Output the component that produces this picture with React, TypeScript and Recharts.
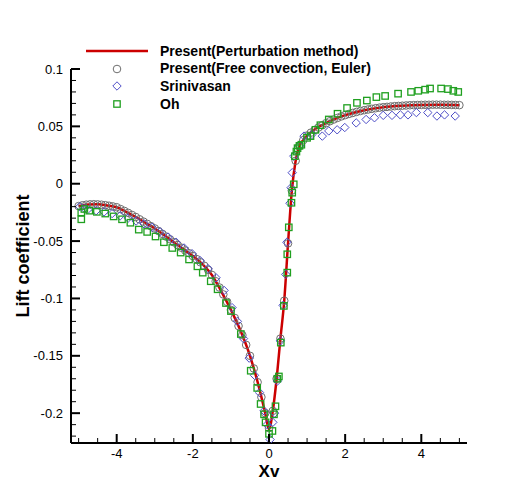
import React from "react";
import {
  ComposedChart,
  Line,
  Scatter,
  XAxis,
  YAxis,
  Legend,
  Label,
} from "recharts";

// Present (perturbation method) - smooth red curve
const perturbX = [
  -5, -4.75, -4.5, -4.25, -4, -3.75, -3.5, -3.25, -3, -2.75, -2.5, -2.25, -2,
  -1.75, -1.5, -1.25, -1, -0.75, -0.5, -0.25, -0.1, 0, 0.1, 0.2, 0.3, 0.4, 0.5,
  0.6, 0.7, 0.8, 0.9, 1, 1.25, 1.5, 1.75, 2, 2.5, 3, 3.5, 4, 4.5, 5,
];
const perturbY = [
  -0.0195, -0.0181, -0.018, -0.0189, -0.0205, -0.0245, -0.029, -0.034, -0.039,
  -0.0449, -0.051, -0.057, -0.063, -0.07, -0.0795, -0.094, -0.11, -0.128, -0.15,
  -0.179, -0.2, -0.214, -0.198, -0.17, -0.135, -0.102, -0.052, -0.006, 0.02,
  0.033, 0.038, 0.042, 0.0485, 0.0528, 0.0567, 0.0598, 0.0641, 0.0667, 0.068,
  0.0687, 0.0689, 0.0685,
];

// Present (free convection, Euler) - circles
const eulerX = [
  -5, -4.9, -4.8, -4.7, -4.6, -4.5, -4.4, -4.3, -4.2, -4.1, -4, -3.9, -3.8, -3.7,
  -3.6, -3.5, -3.4, -3.3, -3.2, -3.1, -3, -2.9, -2.8, -2.7, -2.6, -2.5, -2.4,
  -2.3, -2.2, -2.1, -2, -1.9, -1.8, -1.7, -1.6, -1.5, -1.4, -1.3, -1.2, -1.1, -1,
  -0.9, -0.8, -0.7, -0.6, -0.5, -0.4, -0.3, -0.2, -0.1, 0, 0.1, 0.2, 0.3, 0.4,
  0.5, 0.6, 0.7, 0.8, 0.9, 1, 1.1, 1.2, 1.3, 1.4, 1.5, 1.6, 1.7, 1.8, 1.9, 2,
  2.1, 2.2, 2.3, 2.4, 2.5, 2.6, 2.7, 2.8, 2.9, 3, 3.1, 3.2, 3.3, 3.4, 3.5, 3.6,
  3.7, 3.8, 3.9, 4, 4.1, 4.2, 4.3, 4.4, 4.5, 4.6, 4.7, 4.8, 4.9, 5,
];
const eulerY = [
  -0.0195, -0.0188, -0.0183, -0.018, -0.0179, -0.018, -0.0183, -0.0187, -0.0192,
  -0.0198, -0.0205, -0.0221, -0.0237, -0.0254, -0.0272, -0.029, -0.031, -0.033,
  -0.035, -0.037, -0.039, -0.0413, -0.0437, -0.0461, -0.0485, -0.051, -0.0534,
  -0.0558, -0.0582, -0.0606, -0.063, -0.0657, -0.0685, -0.0715, -0.075, -0.0795,
  -0.085, -0.0905, -0.0965, -0.103, -0.11, -0.117, -0.124, -0.132, -0.1405,
  -0.15, -0.161, -0.173, -0.186, -0.2, -0.213, -0.198, -0.17, -0.135, -0.102,
  -0.052, -0.006, 0.02, 0.033, 0.038, 0.042, 0.0445, 0.0468, 0.049, 0.051,
  0.0528, 0.0545, 0.056, 0.0574, 0.0587, 0.0598, 0.0608, 0.0617, 0.0626, 0.0634,
  0.0641, 0.0647, 0.0653, 0.0658, 0.0663, 0.0667, 0.067, 0.0673, 0.0676, 0.0678,
  0.068, 0.0682, 0.0684, 0.0685, 0.0686, 0.0687, 0.0688, 0.0688, 0.0689, 0.0689,
  0.0689, 0.0688, 0.0688, 0.0687, 0.0686, 0.0685,
];

// Srinivasan - diamonds
const srinivasanX = [
  -4.97, -4.85, -4.76, -4.54, -4.33, -4.12, -3.91, -3.7, -3.49, -3.28, -3.07,
  -2.86, -2.65, -2.44, -2.23, -2.02, -1.81, -1.6, -1.39, -1.18, -0.97, -0.83,
  -0.67, -0.52, -0.38, -0.25, -0.13, -0.05, 0.03, 0.1, 0.15, 0.22, 0.3, 0.37,
  0.44, 0.47, 0.55, 0.58, 0.61, 0.65, 0.8, 0.92, 1.13, 1.4, 1.57, 1.79, 1.99,
  2.29, 2.55, 2.77, 3.0, 3.23, 3.45, 3.65, 3.87, 4.17, 4.41, 4.61, 4.89,
];
const srinivasanY = [
  -0.02, -0.0215, -0.0225, -0.0235, -0.0245, -0.026, -0.028, -0.03, -0.0325,
  -0.035, -0.038, -0.042, -0.0465, -0.051, -0.056, -0.061, -0.067, -0.074,
  -0.082, -0.093, -0.108, -0.12, -0.135, -0.152, -0.167, -0.182, -0.198, -0.21,
  -0.223, -0.208, -0.2, -0.172, -0.137, -0.106, -0.079, -0.051, -0.017,
  -0.0035, 0.0096, 0.024, 0.033, 0.0415, 0.043, 0.0415, 0.046, 0.047, 0.049,
  0.053, 0.056, 0.0575, 0.0596, 0.0596, 0.06, 0.06, 0.062, 0.062, 0.059, 0.06,
  0.059,
];

// Oh - squares
const ohX = [
  -4.93, -4.93, -4.85, -4.72, -4.52, -4.3, -4.08, -3.86, -3.64, -3.42, -3.2,
  -2.98, -2.76, -2.54, -2.32, -2.1, -1.88, -1.74, -1.53, -1.35, -1.13, -1.0,
  -0.74, -0.48, -0.31, -0.22, -0.13, -0.09, 0, 0.09, 0.13, 0.17, 0.22, 0.26,
  0.31, 0.39, 0.48, 0.48, 0.52, 0.59, 0.61, 0.65, 0.68, 0.72, 0.75, 0.8, 0.85,
  1.0, 1.09, 1.22, 1.35, 1.57, 1.8, 2.05, 2.31, 2.57, 2.82, 3.05, 3.39, 3.73,
  3.92, 4.1, 4.23, 4.52, 4.7, 4.84, 4.97,
];
const ohY = [
  -0.031, -0.025, -0.022, -0.0235, -0.0245, -0.026, -0.0285, -0.031, -0.034,
  -0.04, -0.042, -0.046, -0.051, -0.056, -0.06, -0.066, -0.072, -0.0775,
  -0.085, -0.092, -0.104, -0.111, -0.131, -0.163, -0.178, -0.192, -0.201,
  -0.208, -0.218, -0.2155, -0.201, -0.194, -0.17, -0.168, -0.1385, -0.1065,
  -0.0775, -0.0615, -0.038, -0.0166, -0.0078, -0.0005, 0.024, 0.028, 0.031,
  0.033, 0.034, 0.04, 0.0415, 0.047, 0.051, 0.056, 0.061, 0.066, 0.0705,
  0.0725, 0.0755, 0.0765, 0.0785, 0.08, 0.081, 0.082, 0.083, 0.083, 0.0825,
  0.081, 0.08,
];

const xMajorTicks = [-4, -2, 0, 2, 4];
const yMajorTicks = [-0.2, -0.15, -0.1, -0.05, 0, 0.05, 0.1];

const seriesNames = [
  "Present(Perturbation method)",
  "Present(Free convection, Euler)",
  "Srinivasan",
  "Oh",
];

const zip = (xs: number[], ys: number[]) => xs.map((x, i) => ({ x, y: ys[i] }));

const perturbData = zip(perturbX, perturbY);
const eulerData = zip(eulerX, eulerY);
const srinivasanData = zip(srinivasanX, srinivasanY);
const ohData = zip(ohX, ohY);

// minor ticks every 0.5 on x, every 0.01 on y
const xTicks: number[] = [];
for (let k = -10; k <= 10; k++) xTicks.push(k / 2);
const yTicks: number[] = [];
for (let k = -22; k <= 10; k++) yTicks.push(k / 100);

const FONT = "'Liberation Sans', Arial, Helvetica, sans-serif";
const RED = "#cc0000";
const GRAY = "#6e6e6e";
const BLUE = "#4f4fc8";
const GREEN = "#20a020";

const XTick = (props: any) => {
  const { x, y, payload } = props;
  const v = payload.value;
  const major = xMajorTicks.includes(v);
  return (
    <g>
      <line
        x1={x}
        x2={x}
        y1={y}
        y2={y - (major ? 9 : 5)}
        stroke="#000"
        strokeWidth={major ? 2 : 1}
      />
      {major && (
        <text x={x} y={y + 14.5} textAnchor="middle" fontSize={13} fontFamily={FONT} fill="#000">
          {v}
        </text>
      )}
    </g>
  );
};

const YTick = (props: any) => {
  const { x, y, payload } = props;
  const v = payload.value;
  const major = yMajorTicks.includes(v);
  return (
    <g>
      <line
        x1={x}
        x2={x + (major ? 9 : 5)}
        y1={y}
        y2={y}
        stroke="#000"
        strokeWidth={major ? 2 : 1}
      />
      {major && (
        <text x={x - 8} y={y + 4.5} textAnchor="end" fontSize={13} fontFamily={FONT} fill="#000">
          {v}
        </text>
      )}
    </g>
  );
};

const circleShape = (p: any) => (
  <circle cx={p.cx} cy={p.cy} r={3.8} fill="none" stroke={GRAY} strokeWidth={1} />
);
const diamondShape = (p: any) => (
  <path
    d={`M${p.cx},${p.cy - 4.2}L${p.cx + 4.2},${p.cy}L${p.cx},${p.cy + 4.2}L${p.cx - 4.2},${p.cy}Z`}
    fill="none"
    stroke={BLUE}
    strokeWidth={1}
  />
);
const squareShape = (p: any) => (
  <rect x={p.cx - 3.2} y={p.cy - 3.2} width={6.4} height={6.4} fill="none" stroke={GREEN} strokeWidth={1.3} />
);

const legendIcons = [
  <line key="l" x1={0} x2={62} y1={9} y2={9} stroke={RED} strokeWidth={2.5} />,
  <circle key="c" cx={31} cy={9} r={3.8} fill="none" stroke={GRAY} />,
  <path key="d" d="M31,4.8L35.2,9L31,13.2L26.8,9Z" fill="none" stroke={BLUE} />,
  <rect key="s" x={27.8} y={5.8} width={6.4} height={6.4} fill="none" stroke={GREEN} strokeWidth={1.3} />,
];

const renderLegend = () => (
  <div style={{ fontFamily: FONT }}>
    {seriesNames.map((name, i) => (
      <div key={name} style={{ display: "flex", alignItems: "center", height: 17.8 }}>
        <svg width={74} height={18}>{legendIcons[i]}</svg>
        <span style={{ fontSize: 14, fontWeight: "bold", color: "#000", whiteSpace: "nowrap" }}>
          {name}
        </span>
      </div>
    ))}
  </div>
);

const XLabel = (props: any) => {
  const vb = props.viewBox;
  return (
    <text
      x={vb.x + vb.width / 2}
      y={vb.y + 34}
      textAnchor="middle"
      fontSize={17}
      fontWeight="bold"
      fontFamily={FONT}
      fill="#000"
    >
      Xv
    </text>
  );
};

const YLabel = (props: any) => {
  const vb = props.viewBox;
  const cx = 21;
  const cy = vb.y + vb.height / 2;
  return (
    <text
      x={cx}
      y={cy}
      transform={`rotate(-90 ${cx} ${cy})`}
      textAnchor="middle"
      fontSize={18}
      fontWeight="bold"
      fontFamily={FONT}
      fill="#000"
    >
      Lift coefficient
    </text>
  );
};

export default function App() {
  return (
    <div style={{ width: 520, height: 486, background: "#fff" }}>
      <ComposedChart width={520} height={486} margin={{ top: 61, right: 61, bottom: 0, left: 0 }}>
        <XAxis
          type="number"
          dataKey="x"
          domain={[-5.2, 5.2]}
          ticks={xTicks}
          interval={0}
          allowDataOverflow
          height={51}
          tickSize={0}
          tickMargin={0}
          tickLine={false}
          axisLine={{ stroke: "#000", strokeWidth: 2 }}
          tick={<XTick />}
        >
          <Label content={<XLabel />} />
        </XAxis>
        <YAxis
          type="number"
          dataKey="y"
          domain={[-0.226, 0.1]}
          ticks={yTicks}
          interval={0}
          allowDataOverflow
          width={63}
          tickSize={0}
          tickMargin={0}
          tickLine={false}
          axisLine={{ stroke: "#000", strokeWidth: 2 }}
          tick={<YTick />}
        >
          <Label content={<YLabel />} />
        </YAxis>
        <Legend
          layout="vertical"
          align="center"
          verticalAlign="middle"
          content={renderLegend}
          wrapperStyle={{ left: 78, top: 33.8, width: 330 }}
        />
        <Scatter name={seriesNames[1]} data={eulerData} shape={circleShape} isAnimationActive={false} />
        <Scatter name={seriesNames[2]} data={srinivasanData} shape={diamondShape} isAnimationActive={false} />
        <Scatter name={seriesNames[3]} data={ohData} shape={squareShape} isAnimationActive={false} />
        <Line
          name={seriesNames[0]}
          data={perturbData}
          dataKey="y"
          type="monotone"
          dot={false}
          stroke={RED}
          strokeWidth={2.5}
          isAnimationActive={false}
        />
      </ComposedChart>
    </div>
  );
}
